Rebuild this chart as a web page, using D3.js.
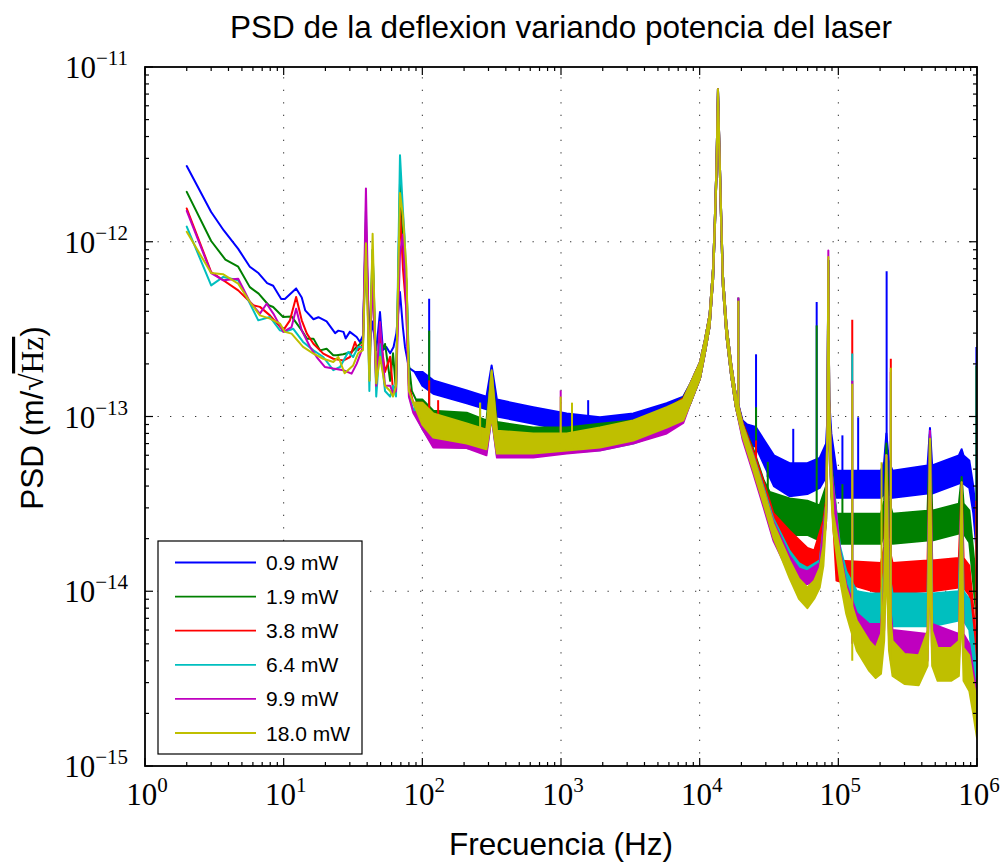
<!DOCTYPE html>
<html><head><meta charset="utf-8">
<script src="https://cdn.jsdelivr.net/npm/d3@7/dist/d3.min.js"></script>
<style>body{margin:0;background:#fff}</style>
</head><body>
<svg id="c" width="1002" height="867"></svg>
<script>
const seriesLabels = ["0.9 mW","1.9 mW","3.8 mW","6.4 mW","9.9 mW","18.0 mW"];
const seriesColors = ["#0000ff","#008000","#ff0000","#00bfbf","#bf00bf","#bfbf00"];
const xTickExps = [0,1,2,3,4,5,6];
const yTickExps = [-15,-14,-13,-12,-11];

// low-frequency traces [Hz, value]
const lowBlue = [[2,2.71e-12],[3,1.48e-12],[3.7,1.16e-12],[4.7,9.1e-13],[5.7,7.2e-13],[6.6,6.6e-13],[7.6,5.8e-13],[8.4,5.6e-13],[9.6,4.7e-13],[10.2,4.7e-13],[12.3,5.4e-13],[13.5,4.8e-13],[14.3,4.05e-13],[16.4,3.6e-13],[17.8,3.7e-13],[20.4,3.5e-13],[23.5,3.0e-13],[24.8,3.1e-13],[27,3.05e-13],[28,2.8e-13],[30,3.05e-13],[33.6,2.85e-13],[35.5,2.67e-13],[37.3,2.9e-13],[39.2,1.19e-12],[41.5,2.5e-13],[43.8,3.5e-13],[46.5,2.4e-13],[49.5,3.96e-13],[52,2.4e-13],[55,2.5e-13],[58.6,2.3e-13],[62,2.5e-13],[65,3.0e-13],[69,5.16e-13],[72.5,3.2e-13],[75,2.5e-13],[80,1.9e-13],[88,1.8e-13]];
const lowGreen = [[2,1.93e-12],[3,1.01e-12],[3.8,7.9e-13],[4.7,7.2e-13],[5.7,5.5e-13],[6.6,5.05e-13],[7.8,4.33e-13],[8.4,4.23e-13],[9.9,3.71e-13],[11.4,3.74e-13],[13.5,3.11e-13],[14.7,2.79e-13],[16.4,2.79e-13],[18.3,2.39e-13],[20.4,2.44e-13],[22.8,2.24e-13],[24.1,2.24e-13],[26.9,2.27e-13],[30.9,2.34e-13],[33.6,2.5e-13],[37.3,2.7e-13],[39.2,1.0e-12],[41.5,2.4e-13],[43.8,9e-13],[46.5,1.8e-13],[49.5,2.3e-13],[53.8,2.6e-13],[58.6,1.6e-13],[61.5,2.3e-13],[64.6,1.4e-13],[69,2.16e-12],[72.5,9e-13],[76.8,6e-13],[80,2e-13],[84,1.4e-13],[90,1.25e-13]];
const lowRed = [[2,1.55e-12],[3,6.71e-13],[4.7,5.27e-13],[6.05,4.33e-13],[6.74,4.24e-13],[7.96,3.79e-13],[9.93,3.11e-13],[11.1,3.55e-13],[12.3,4.83e-13],[13.5,3.55e-13],[14.7,2.98e-13],[16.4,2.61e-13],[19.3,2.29e-13],[22.8,2.14e-13],[26.9,2.09e-13],[30.1,2.19e-13],[32.7,2.67e-13],[34.4,2.39e-13],[37.3,2.6e-13],[39.2,1.3e-12],[41.5,1.6e-13],[43.8,8e-13],[46.5,1.5e-13],[49.5,3.0e-13],[53.8,1.8e-13],[58.6,2.2e-13],[61.5,1.4e-13],[64.6,1.5e-13],[69,1.5e-12],[72.5,7e-13],[76.8,4e-13],[80,1.5e-13],[86,1.2e-13]];
const lowCyan = [[2,1.22e-12],[3,5.63e-13],[3.67,6.29e-13],[4.7,6.02e-13],[5.56,4.62e-13],[6.56,3.55e-13],[7.96,3.71e-13],[9.4,3.11e-13],[10.2,3.05e-13],[11.7,3.18e-13],[13.8,2.67e-13],[16.4,2.39e-13],[19.3,2.19e-13],[22.8,1.84e-13],[25.5,1.92e-13],[29.2,2.34e-13],[31.7,2.19e-13],[34.4,2.5e-13],[37.3,2.5e-13],[39.2,1.5e-12],[41.5,1.4e-13],[43.8,9e-13],[46.5,1.3e-13],[49.5,2.6e-13],[53.8,1.4e-13],[58.6,1.3e-13],[61.5,1.5e-13],[64.6,1.3e-13],[69,3.13e-12],[72.5,1.5e-12],[74.5,1.07e-12],[78,4e-13],[80.5,1.3e-13],[86,1.1e-13]];
const lowMagenta = [[2,1.5e-12],[3,6.62e-13],[3.67,6.02e-13],[4.7,6.15e-13],[5.71,4.52e-13],[6.74,3.88e-13],[7.54,4.42e-13],[8.42,3.88e-13],[9.93,3.05e-13],[11.4,3.25e-13],[12.3,4.14e-13],[13.5,3.11e-13],[15.5,2.5e-13],[17.3,2.19e-13],[19.8,1.92e-13],[22.8,1.88e-13],[26.9,1.84e-13],[30.9,1.76e-13],[33.6,2.0e-13],[37.3,2.5e-13],[39.2,2.02e-12],[41.5,2.0e-13],[43.8,6e-13],[46.5,1.5e-13],[49.5,3.47e-13],[53.8,1.5e-13],[58.6,1.5e-13],[61.5,1.35e-13],[64.6,1.4e-13],[69,8.56e-13],[72.5,1.1e-12],[76,5e-13],[80,1.3e-13],[86,1.05e-13]];
const lowYellow = [[2,1.14e-12],[3,6.62e-13],[3.67,6.51e-13],[4.7,5.76e-13],[5.71,4.52e-13],[6.74,3.79e-13],[7.96,3.63e-13],[9.4,3.4e-13],[10.2,3.05e-13],[11.4,2.98e-13],[13.8,2.5e-13],[16.4,2.29e-13],[19.3,2.14e-13],[22.8,2.05e-13],[24.8,2.19e-13],[27.5,1.77e-13],[31.7,1.96e-13],[34.4,2.3e-13],[37.3,2.4e-13],[39.2,9.8e-13],[41.5,1.6e-13],[43.8,1.11e-12],[46.5,1.55e-13],[49.5,2.2e-13],[53.8,1.5e-13],[58.6,1.4e-13],[61.5,1.3e-13],[64.6,1.5e-13],[69,1.9e-12],[72.5,1.4e-12],[76.8,7e-13],[80,1.4e-13],[86,1.2e-13]];

// noise bands 100 Hz - 8 kHz [Hz, low, high]
const midBlue = [[100,1.5e-13,1.8e-13],[120,1.35e-13,1.61e-13],[209,1.19e-13,1.41e-13],[290,1.1e-13,1.3e-13],[316,1.3e-13,1.96e-13],[345,1.0e-13,1.25e-13],[631,9.1e-14,1.13e-13],[1100,8.3e-14,1.04e-13],[1910,8.3e-14,9.9e-14],[3320,8.5e-14,1.04e-13],[5780,9.5e-14,1.19e-13],[7620,1.0e-13,1.3e-13]];
const midGreen = [[100,1.0e-13,1.25e-13],[120,8.65e-14,1.08e-13],[209,8.3e-14,1.05e-13],[290,7.8e-14,9.5e-14],[316,1.0e-13,1.8e-13],[345,7.6e-14,9.3e-14],[631,7.3e-14,8.65e-14],[1100,7.3e-14,8.65e-14],[1910,7.6e-14,9.1e-14],[3320,8.0e-14,9.5e-14],[5780,9.0e-14,1.1e-13],[7620,1.0e-13,1.28e-13]];
const midRed = [[100,9e-14,1.2e-13],[120,7.2e-14,1.0e-13],[209,6.9e-14,9.0e-14],[290,6.6e-14,8.4e-14],[316,1.0e-13,1.8e-13],[345,6.4e-14,8.2e-14],[631,6.3e-14,7.9e-14],[1100,6.5e-14,7.9e-14],[1910,6.7e-14,8.4e-14],[3320,7.3e-14,9.2e-14],[5780,8.6e-14,1.1e-13],[7620,9.8e-14,1.27e-13]];
const midCyan = [[100,8.5e-14,1.15e-13],[120,6.8e-14,9.8e-14],[209,6.6e-14,8.8e-14],[290,6.2e-14,8.2e-14],[316,1.0e-13,1.8e-13],[345,6.0e-14,7.8e-14],[631,5.95e-14,7.5e-14],[1100,6.2e-14,7.5e-14],[1910,6.4e-14,8.0e-14],[3320,7.0e-14,8.8e-14],[5780,8.2e-14,1.05e-13],[7620,9.4e-14,1.24e-13]];
const midMagenta = [[100,8.5e-14,1.1e-13],[120,6.64e-14,9.5e-14],[209,6.6e-14,8.5e-14],[290,6.0e-14,7.8e-14],[316,1.0e-13,1.7e-13],[345,5.82e-14,7.6e-14],[631,5.82e-14,7.3e-14],[1100,6.14e-14,7.3e-14],[1910,6.38e-14,7.6e-14],[3320,7.0e-14,8.5e-14],[5780,8.0e-14,1.0e-13],[7620,9.2e-14,1.22e-13]];
const midYellow = [[100,9e-14,1.2e-13],[120,7.58e-14,1.04e-13],[209,7.0e-14,9.12e-14],[290,6.5e-14,8.4e-14],[316,1.0e-13,1.84e-13],[345,6.14e-14,8.3e-14],[631,6.14e-14,8.0e-14],[1100,6.38e-14,8.0e-14],[1910,6.64e-14,8.65e-14],[3320,7.28e-14,9.49e-14],[5780,8.65e-14,1.13e-13],[7620,9.5e-14,1.25e-13]];

// shared mechanical resonance near 13.5 kHz [Hz, low, high]
const resonance = [[8600,1.2e-13,1.55e-13],[10050,1.65e-13,2.04e-13],[10900,2.3e-13,2.73e-13],[11800,3.28e-13,3.84e-13],[12500,6.1e-13,7.14e-13],[12850,1.13e-12,1.31e-12],[13200,2.31e-12,2.64e-12],[13550,6.82e-12,7.48e-12],[13950,2.64e-12,3.01e-12],[14300,1.24e-12,1.42e-12],[14700,5.56e-13,6.51e-13],[15600,2.87e-13,3.37e-13],[16900,1.69e-13,1.99e-13],[18200,1.14e-13,1.34e-13]];

// noise bands 20 kHz - 1 MHz [Hz, low, high]
const highBlue = [[20400,8.0e-14,9.5e-14],[22000,7.0e-14,9.0e-14],[25400,6.7e-14,8.7e-14],[34300,4.0e-14,6.0e-14],[44500,3.5e-14,5.4e-14],[59800,3.6e-14,5.4e-14],[73400,3.9e-14,5.8e-14],[81600,4.5e-14,7e-14],[83500,7.3e-14,1.0e-13],[84700,6e-13,7.8e-13],[86000,8.3e-14,1.24e-13],[89000,5e-14,8e-14],[97000,3.43e-14,4.9e-14],[203000,3.43e-14,4.9e-14],[214000,3.6e-14,5.5e-14],[222000,4e-14,8e-14],[232000,3.6e-14,5.5e-14],[246000,3.43e-14,4.9e-14],[440000,3.62e-14,5.24e-14],[458000,4e-14,8.6e-14],[475000,3.62e-14,5.24e-14],[740000,4.13e-14,5.98e-14],[775000,4.2e-14,6.5e-14],[800000,4.13e-14,5.98e-14],[880000,3.9e-14,5.6e-14],[940000,2.8e-14,4.0e-14],[1000000,1.6e-14,2.4e-14]];
const highGreen = [[20400,7.9e-14,9.2e-14],[24400,5.3e-14,6.5e-14],[29000,3.4e-14,4.3e-14],[32000,2.5e-14,3.7e-14],[44500,2.1e-14,3.4e-14],[59800,2.1e-14,3.3e-14],[73400,1.95e-14,3.1e-14],[81600,2.8e-14,4.0e-14],[83500,7.3e-14,1.0e-13],[84700,6e-13,7.8e-13],[86000,8.3e-14,1.24e-13],[89000,3.8e-14,5.5e-14],[97000,1.87e-14,2.78e-14],[203000,1.87e-14,2.78e-14],[214000,2.1e-14,3.3e-14],[222000,3e-14,7e-14],[232000,2.1e-14,3.3e-14],[246000,1.87e-14,2.78e-14],[440000,1.95e-14,2.89e-14],[458000,3e-14,8e-14],[475000,1.95e-14,2.89e-14],[740000,2.14e-14,3.17e-14],[775000,2.2e-14,4.5e-14],[800000,2.14e-14,3.17e-14],[880000,1.9e-14,2.9e-14],[940000,1.1e-14,1.7e-14],[1000000,6.5e-15,1.0e-14]];
const highRed = [[20400,7.8e-14,9.2e-14],[24400,5.1e-14,6.3e-14],[29000,3.3e-14,4.2e-14],[34000,2.1e-14,2.8e-14],[44500,1.5e-14,2.22e-14],[59800,1.36e-14,1.77e-14],[67000,1.31e-14,1.71e-14],[78000,1.82e-14,2.54e-14],[81600,2.6e-14,3.3e-14],[83500,7.3e-14,1.0e-13],[84700,6e-13,7.8e-13],[86000,8.3e-14,1.24e-13],[89000,3.8e-14,5.5e-14],[97000,1.15e-14,1.5e-14],[203000,9.7e-15,1.45e-14],[214000,1.1e-14,1.8e-14],[222000,2e-14,6e-14],[232000,1.1e-14,1.8e-14],[246000,9.7e-15,1.45e-14],[440000,1.0e-14,1.5e-14],[458000,2e-14,8e-14],[475000,1.0e-14,1.5e-14],[740000,1.05e-14,1.55e-14],[775000,1.2e-14,4e-14],[800000,1.05e-14,1.55e-14],[880000,9.5e-15,1.4e-14],[940000,5.5e-15,8e-15],[1000000,3.0e-15,4.5e-15]];
const highCyan = [[20400,7.6e-14,9.0e-14],[24400,4.9e-14,6.0e-14],[29000,3.1e-14,3.9e-14],[34000,2.0e-14,2.6e-14],[44500,1.3e-14,1.7e-14],[52000,1.15e-14,1.45e-14],[59800,1.15e-14,1.36e-14],[73400,1.2e-14,1.5e-14],[81600,2.5e-14,3.1e-14],[83500,7.3e-14,1.0e-13],[84700,6e-13,7.8e-13],[86000,8.3e-14,1.24e-13],[89000,3.6e-14,5.0e-14],[103000,1.3e-14,1.8e-14],[114000,9.5e-15,1.3e-14],[136000,7.0e-15,1.0e-14],[167000,6.3e-15,9.7e-15],[203000,6.3e-15,9.7e-15],[214000,7.5e-15,1.3e-14],[222000,1.5e-14,6e-14],[232000,7.5e-15,1.3e-14],[246000,6.3e-15,9.7e-15],[440000,6.3e-15,9.7e-15],[458000,1.5e-14,8e-14],[475000,6.3e-15,9.7e-15],[740000,6.8e-15,1.0e-14],[775000,1e-14,4e-14],[800000,6.8e-15,1.0e-14],[880000,6e-15,9e-15],[940000,3.5e-15,5.5e-15],[1000000,2.0e-15,3.0e-15]];
const highMagenta = [[20400,7.4e-14,9.0e-14],[24400,4.7e-14,5.9e-14],[29000,3.0e-14,3.77e-14],[34000,1.95e-14,2.5e-14],[44500,1.25e-14,1.6e-14],[52000,1.08e-14,1.35e-14],[59800,1.1e-14,1.3e-14],[73400,1.15e-14,1.45e-14],[81600,2.5e-14,3.1e-14],[83500,7.3e-14,1.0e-13],[84700,6.5e-13,8.9e-13],[86000,8.3e-14,1.24e-13],[89000,3.6e-14,5.0e-14],[103000,1.2e-14,1.7e-14],[114000,8.0e-15,1.1e-14],[136000,5.4e-15,7.5e-15],[167000,4.4e-15,6.5e-15],[203000,4.4e-15,6.5e-15],[214000,6.0e-15,1.1e-14],[222000,1.6e-14,6e-14],[232000,5.5e-15,9.5e-15],[246000,4.2e-15,6.0e-15],[440000,4.0e-15,5.7e-15],[458000,1.5e-14,8.3e-14],[475000,4.3e-15,6.5e-15],[740000,4.0e-15,5.7e-15],[775000,8e-15,4.2e-14],[800000,4.0e-15,5.7e-15],[880000,3.2e-15,5.0e-15],[940000,2.3e-15,3.5e-15],[1000000,1.6e-15,2.6e-15]];
const highYellow = [[20400,7.68e-14,9.0e-14],[24400,4.9e-14,5.9e-14],[29000,3.13e-14,3.77e-14],[34000,2.03e-14,2.44e-14],[44500,1.19e-14,1.5e-14],[52000,9.06e-15,1.18e-14],[59800,8.0e-15,1.05e-14],[67000,9.06e-15,1.15e-14],[73400,1.05e-14,1.36e-14],[78000,1.4e-14,1.82e-14],[81600,2.54e-14,3.09e-14],[83500,7.28e-14,9.49e-14],[84700,6.0e-13,8.18e-13],[86000,8.3e-14,1.24e-13],[89000,3.52e-14,4.9e-14],[92000,2.22e-14,2.78e-14],[103000,1.15e-14,1.64e-14],[114000,7.43e-15,1.05e-14],[136000,4.56e-15,6.78e-15],[167000,3.5e-15,5.2e-15],[186000,3.19e-15,4.74e-15],[203000,3.37e-15,5.71e-15],[214000,5.2e-15,1.0e-14],[222000,1.5e-14,6e-14],[232000,4.56e-15,8.83e-15],[246000,3.28e-15,5.2e-15],[300000,2.95e-15,4.38e-15],[380000,2.9e-15,4.3e-15],[440000,3.74e-15,5.94e-15],[458000,1.5e-14,7.45e-14],[475000,3.74e-15,5.94e-15],[520000,3.07e-15,4.74e-15],[650000,3.07e-15,4.74e-15],[740000,3.28e-15,5.2e-15],[775000,8e-15,4.2e-14],[800000,3.07e-15,4.74e-15],[880000,2.69e-15,4.3e-15],[940000,1.99e-15,3.07e-15],[1000000,1.45e-15,2.36e-15]];

// narrow spectral lines [Hz, base, peak]
const spikesBlue = [[112,1.5e-13,4.72e-13],[1570,9e-14,1.24e-13],[25500,7e-14,2.27e-13],[30900,4.5e-14,6.1e-14],[47300,4e-14,8.5e-14],[69800,4e-14,4.52e-13],[107000,3.5e-14,7.8e-14],[139000,3.5e-14,9.9e-14],[223000,3.5e-14,6.78e-13],[990000,2.0e-14,2.5e-13]];
const spikesGreen = [[112,9e-14,3.1e-13],[19000,1.1e-13,4.79e-13],[25500,5.5e-14,1.13e-13],[31000,3e-14,5.5e-14],[69800,2e-14,3.32e-13],[107000,2e-14,4.1e-14],[990000,8e-15,1.96e-13]];
const spikesRed = [[112,8e-14,1.61e-13],[130,8e-14,1.24e-13],[19000,1.1e-13,4.7e-13],[25500,5e-14,7.3e-14],[126000,1e-14,3.58e-13],[239000,1e-14,2.14e-13],[990000,4e-15,3.3e-14]];
const spikesCyan = [[261,7e-14,1.2e-13],[19000,1.1e-13,4.75e-13],[126000,7e-15,2.29e-13],[239000,7e-15,1.6e-13]];
const spikesMagenta = [[995,6.5e-14,1.41e-13],[19000,1.1e-13,4.8e-13],[126000,5e-15,1.6e-13],[239000,5e-15,1.8e-13]];
const spikesYellow = [[261,7e-14,1.2e-13],[995,7e-14,1.3e-13],[1200,7e-14,1.2e-13],[19000,1.1e-13,4.6e-13],[126000,4e-15,1.54e-13],[205000,4e-15,5.47e-14],[239000,4e-15,1.9e-13]];

const seriesLow = [lowBlue,lowGreen,lowRed,lowCyan,lowMagenta,lowYellow];
const seriesMid = [midBlue,midGreen,midRed,midCyan,midMagenta,midYellow];
const seriesHigh = [highBlue,highGreen,highRed,highCyan,highMagenta,highYellow];
const seriesSpikes = [spikesBlue,spikesGreen,spikesRed,spikesCyan,spikesMagenta,spikesYellow];

const W = 1002, H = 867;
const P = {l:145, r:977, t:67, b:766};
const x = d3.scaleLog().domain([1,1e6]).range([P.l,P.r]);
const y = d3.scaleLog().domain([1e-15,1e-11]).range([P.b,P.t]);
const svg = d3.select('#c');
svg.append('rect').attr('width',W).attr('height',H).attr('fill','#fff');

svg.append('defs').append('clipPath').attr('id','clip')
  .append('rect').attr('x',P.l).attr('y',P.t).attr('width',P.r-P.l).attr('height',P.b-P.t);

// grid
const grid = svg.append('g').attr('stroke','#333').attr('stroke-width',1).attr('stroke-dasharray','1.3,11.2');
xTickExps.slice(1,-1).forEach(e=>{
  grid.append('line').attr('x1',x(10**e)).attr('x2',x(10**e)).attr('y1',P.b).attr('y2',P.t);
});
yTickExps.slice(1,-1).forEach(e=>{
  grid.append('line').attr('y1',y(10**e)).attr('y2',y(10**e)).attr('x1',P.l).attr('x2',P.r);
});

// data
const plot = svg.append('g').attr('clip-path','url(#clip)');
const area = d3.area().x(d=>x(d.f)).y0(d=>y(d.lo)).y1(d=>y(d.hi));
seriesColors.forEach((col,i)=>{
  const rows = seriesLow[i].map(([f,v])=>({f,lo:v,hi:v}))
    .concat(seriesMid[i].concat(resonance, seriesHigh[i]).map(([f,lo,hi])=>({f,lo,hi})));
  plot.append('path').datum(rows).attr('d',area)
    .attr('fill',col).attr('stroke',col).attr('stroke-width',2).attr('stroke-linejoin','round');
  plot.append('g').selectAll('line').data(seriesSpikes[i]).join('line')
    .attr('x1',d=>x(d[0])).attr('x2',d=>x(d[0]))
    .attr('y1',d=>y(d[1])).attr('y2',d=>y(d[2]))
    .attr('stroke',col).attr('stroke-width',2);
});

// frame & ticks
const ax = svg.append('g').attr('stroke','#000');
ax.append('rect').attr('x',P.l).attr('y',P.t).attr('width',P.r-P.l).attr('height',P.b-P.t)
  .attr('fill','none').attr('stroke-width',1.8);
const minorX = [], minorY = [];
for (let e=0;e<6;e++) for (let k=2;k<=9;k++) minorX.push(k*10**e);
for (let e=-15;e<-11;e++) for (let k=2;k<=9;k++) minorY.push(k*10**e);
const tk = (len, vals, isX) => vals.forEach(v=>{
  if (isX) {
    const px = x(v);
    ax.append('line').attr('x1',px).attr('x2',px).attr('y1',P.b).attr('y2',P.b-len).attr('stroke-width',1.2);
    ax.append('line').attr('x1',px).attr('x2',px).attr('y1',P.t).attr('y2',P.t+len).attr('stroke-width',1.2);
  } else {
    const py = y(v);
    ax.append('line').attr('y1',py).attr('y2',py).attr('x1',P.l).attr('x2',P.l+len).attr('stroke-width',1.2);
    ax.append('line').attr('y1',py).attr('y2',py).attr('x1',P.r).attr('x2',P.r-len).attr('stroke-width',1.2);
  }
});
tk(8, xTickExps.map(e=>10**e), true);
tk(4, minorX, true);
tk(8, yTickExps.map(e=>10**e), false);
tk(4, minorY, false);

// tick labels
const serif = "'Liberation Serif','DejaVu Serif',serif";
const sans = "'Liberation Sans',Arial,sans-serif";
function powLabel(px, py, exp, anchor){
  const t = svg.append('text').attr('x',px).attr('y',py).attr('text-anchor',anchor)
    .attr('font-family',serif).attr('font-size',31).attr('fill','#000');
  t.append('tspan').text('10');
  t.append('tspan').attr('dy',-13).attr('font-size',21).text(String(exp).replace('-','\u2212'));
}
xTickExps.forEach(e=>powLabel(x(10**e)+2, 805, e, 'middle'));
yTickExps.forEach(e=>powLabel(128, y(10**e)+11, e, 'end'));

// titles
svg.append('text').attr('x',561).attr('y',38).attr('text-anchor','middle')
  .attr('font-family',sans).attr('font-size',31.5).text('PSD de la deflexion variando potencia del laser');
svg.append('text').attr('x',561).attr('y',855).attr('text-anchor','middle')
  .attr('font-family',sans).attr('font-size',31.5).text('Frecuencia (Hz)');
const yl = svg.append('text').attr('transform','translate(43,418) rotate(-90)').attr('text-anchor','middle')
  .attr('font-family',sans).attr('font-size',31.5);
yl.append('tspan').text('PSD (m/');
yl.append('tspan').attr('font-family',serif).text('\u221A');
yl.append('tspan').attr('font-family',serif).attr('text-decoration','overline').text('Hz');
yl.append('tspan').text(')');

// legend
const lg = svg.append('g');
lg.append('rect').attr('x',158).attr('y',541).attr('width',204).attr('height',213)
  .attr('fill','#fff').attr('stroke','#000').attr('stroke-width',1.2);
seriesLabels.forEach((lab,i)=>{
  const cy = 562.5 + i*34.1;
  lg.append('line').attr('x1',175).attr('x2',256).attr('y1',cy).attr('y2',cy)
    .attr('stroke',seriesColors[i]).attr('stroke-width',1.8);
  lg.append('text').attr('x',266).attr('y',cy+7.5).attr('font-family',sans).attr('font-size',21).text(lab);
});
</script>
</body></html>
